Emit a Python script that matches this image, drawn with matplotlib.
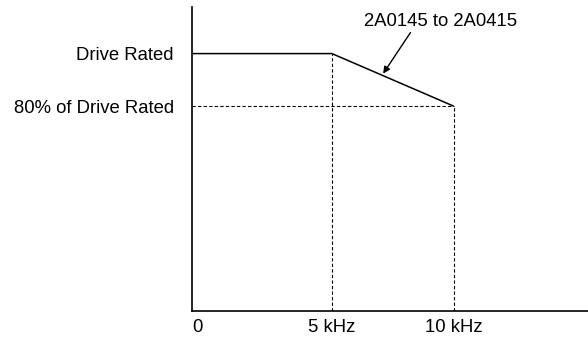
import matplotlib
matplotlib.use("Agg")
import matplotlib.pyplot as plt

plt.rcParams['font.family'] = ['Liberation Sans', 'DejaVu Sans']

# Data (schematic derating curve)
freq_khz = [-0.74, 5, 10]          # carrier frequency points
current_pct = [100, 100, 80]       # rated current percentage
x_tick_pos = [-0.74, 5, 10]
x_tick_labels = ["0", "5 kHz", "10 kHz"]
y_tick_pos = [100, 80]
y_tick_labels = ["Drive Rated", "80% of Drive Rated"]
annot_text = "2A0145 to 2A0415"

W, H = 588, 338
fig = plt.figure(figsize=(W / 100, H / 100), dpi=100)
ax = fig.add_axes([192 / W, 1 - 310.5 / H, 1 - 192 / W, (310.5 - 7) / H])

ax.set_xlim(-0.74, 15.5)
ax.set_ylim(2.4, 117.7)

ax.plot(freq_khz, current_pct, color='black', lw=1.1, solid_capstyle='butt')
# dashed guide lines
ax.plot([freq_khz[1], freq_khz[1]], [2.4, current_pct[1]], color='black', lw=0.8, ls=(0, (3, 2)))
ax.plot([freq_khz[2], freq_khz[2]], [2.4, current_pct[2]], color='black', lw=0.8, ls=(0, (3, 2)))
ax.plot([freq_khz[0], freq_khz[2]], [current_pct[2], current_pct[2]], color='black', lw=0.8, ls=(0, (3, 2)))

for s in ['top', 'right']:
    ax.spines[s].set_visible(False)
for s in ['left', 'bottom']:
    ax.spines[s].set_linewidth(1.2)

ax.set_xticks(x_tick_pos)
ax.set_xticklabels(x_tick_labels, fontsize=13.3)
ax.get_xticklabels()[0].set_horizontalalignment('left')
ax.set_yticks(y_tick_pos)
ax.set_yticklabels(y_tick_labels, fontsize=13.3)
ax.tick_params(axis='both', length=0)
ax.tick_params(axis='x', pad=6)
ax.tick_params(axis='y', pad=13)

# annotation text and arrow pointing to sloped segment
ax.text(9.45, 112.3, annot_text, fontsize=13.3, ha='center', va='center')
xa = 7.1
ya = current_pct[1] + (current_pct[2] - current_pct[1]) * (xa - freq_khz[1]) / (freq_khz[2] - freq_khz[1])
ax.annotate("", xy=(xa, ya + 0.8), xytext=(8.22, 108.0),
            arrowprops=dict(arrowstyle='-|>', color='black', lw=1.0,
                            shrinkA=0, shrinkB=0, mutation_scale=10))

fig.savefig("out.png", dpi=100)
